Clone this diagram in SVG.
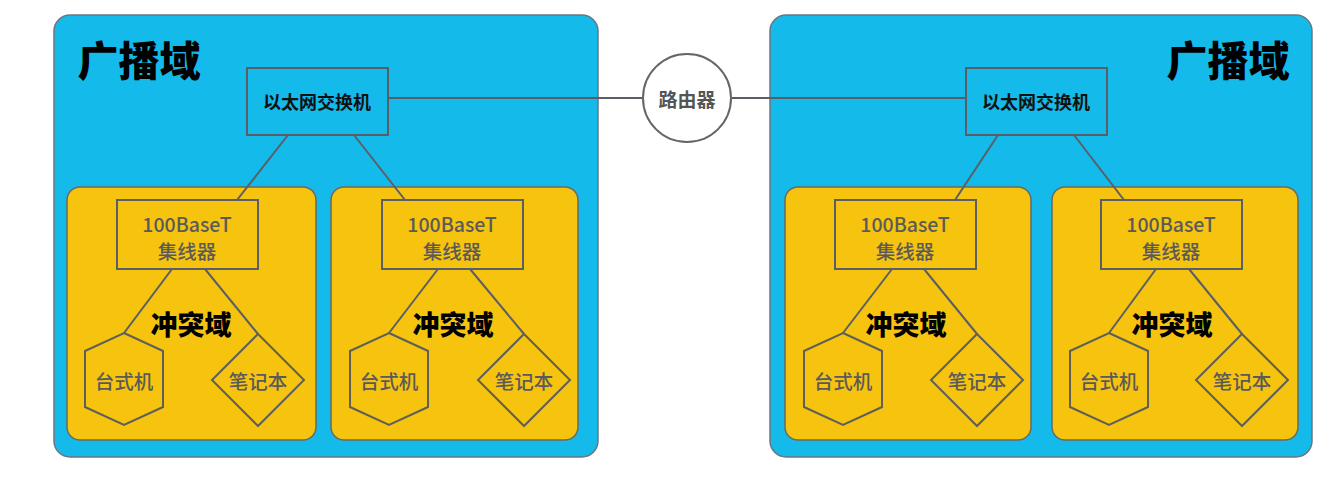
<svg xmlns="http://www.w3.org/2000/svg" width="1328" height="480" viewBox="0 0 1328 480">
<style>
.bd{fill:#13BAEA;stroke:#6b7680;stroke-width:1.5}
.cd{fill:#F6C30F;stroke:#6b6a60;stroke-width:1.5}
.box{stroke:#5a5f66;stroke-width:2}
.sw{fill:#13BAEA}
.hub{fill:#F6C30F}
.dev{fill:#F6C30F;stroke:#5f5f5a;stroke-width:2}
.ln{stroke:#5a5f66;stroke-width:2;fill:none}
.t{font-family:"Noto Sans CJK SC","Noto Sans",sans-serif;text-anchor:middle;dominant-baseline:central}
.big{font-size:41px;font-weight:900;fill:#000}
.sl{font-size:18px;font-weight:700;fill:#111}
.hl{font-size:19.5px;font-weight:500;fill:#5a5a5a}
.cl{font-size:27px;font-weight:900;fill:#000}
.rl{font-size:19px;font-weight:700;fill:#555}
</style>
<g id="bcast-left"><rect class="bd" x="54" y="15" width="544" height="442" rx="16"/><text class="t big" x="139" y="58">广播域</text></g>
<g id="bcast-right"><rect class="bd" x="770" y="15" width="542" height="442" rx="16"/><text class="t big" x="1228" y="58">广播域</text></g>
<g id="coll-a"><rect class="cd" x="67" y="187" width="249" height="253" rx="13"/><text class="t cl" x="191" y="323">冲突域</text></g>
<g id="coll-b"><rect class="cd" x="331" y="187" width="247" height="253" rx="13"/><text class="t cl" x="453" y="323">冲突域</text></g>
<g id="coll-c"><rect class="cd" x="785" y="187" width="246" height="253" rx="13"/><text class="t cl" x="906" y="323">冲突域</text></g>
<g id="coll-d"><rect class="cd" x="1052" y="187" width="246" height="253" rx="13"/><text class="t cl" x="1172" y="323">冲突域</text></g>
<g id="connectors">
<line class="ln" x1="388" y1="98" x2="643" y2="98"/>
<line class="ln" x1="731" y1="98" x2="966" y2="98"/>
<line class="ln" x1="288" y1="135" x2="237" y2="200"/>
<line class="ln" x1="354" y1="135" x2="405" y2="200"/>
<line class="ln" x1="998" y1="135" x2="955" y2="200"/>
<line class="ln" x1="1074" y1="135" x2="1124" y2="200"/>
<line class="ln" x1="172" y1="269" x2="124" y2="333"/>
<line class="ln" x1="205" y1="269" x2="258" y2="334"/>
<line class="ln" x1="438" y1="269" x2="389" y2="333"/>
<line class="ln" x1="470" y1="269" x2="524" y2="334"/>
<line class="ln" x1="892" y1="269" x2="843" y2="333"/>
<line class="ln" x1="924" y1="269" x2="977" y2="334"/>
<line class="ln" x1="1156" y1="269" x2="1109" y2="333"/>
<line class="ln" x1="1189" y1="269" x2="1242" y2="334"/>
</g>
<g id="switch-left"><rect class="box sw" x="247" y="68" width="141" height="67"/><text class="t sl" x="317" y="101">以太网交换机</text></g>
<g id="switch-right"><rect class="box sw" x="966" y="68" width="141" height="67"/><text class="t sl" x="1036" y="101">以太网交换机</text></g>
<g id="router"><circle cx="687" cy="98" r="44" fill="#fff" stroke="#666" stroke-width="2"/><text class="t rl" x="687" y="98">路由器</text></g>
<g id="hub-a"><rect class="box hub" x="117" y="200" width="141" height="69"/><text class="t hl" x="187" y="223">100BaseT</text><text class="t hl" x="187" y="250">集线器</text></g>
<g id="hub-b"><rect class="box hub" x="382" y="200" width="141" height="69"/><text class="t hl" x="452" y="223">100BaseT</text><text class="t hl" x="452" y="250">集线器</text></g>
<g id="hub-c"><rect class="box hub" x="835" y="200" width="141" height="69"/><text class="t hl" x="905" y="223">100BaseT</text><text class="t hl" x="905" y="250">集线器</text></g>
<g id="hub-d"><rect class="box hub" x="1101" y="200" width="141" height="69"/><text class="t hl" x="1171" y="223">100BaseT</text><text class="t hl" x="1171" y="250">集线器</text></g>
<g id="pc-a"><polygon class="dev" points="124,333 163,351 163,407 124,425 85,407 85,351"/><text class="t hl" x="124" y="380">台式机</text></g>
<g id="nb-a"><polygon class="dev" points="258,334 304,380 258,426 212,380"/><text class="t hl" x="258" y="380">笔记本</text></g>
<g id="pc-b"><polygon class="dev" points="389,333 428,351 428,407 389,425 350,407 350,351"/><text class="t hl" x="389" y="380">台式机</text></g>
<g id="nb-b"><polygon class="dev" points="524,334 570,380 524,426 478,380"/><text class="t hl" x="524" y="380">笔记本</text></g>
<g id="pc-c"><polygon class="dev" points="843,333 882,351 882,407 843,425 804,407 804,351"/><text class="t hl" x="843" y="380">台式机</text></g>
<g id="nb-c"><polygon class="dev" points="977,334 1023,380 977,426 931,380"/><text class="t hl" x="977" y="380">笔记本</text></g>
<g id="pc-d"><polygon class="dev" points="1109,333 1148,351 1148,407 1109,425 1070,407 1070,351"/><text class="t hl" x="1109" y="380">台式机</text></g>
<g id="nb-d"><polygon class="dev" points="1242,334 1288,380 1242,426 1196,380"/><text class="t hl" x="1242" y="380">笔记本</text></g>
</svg>
